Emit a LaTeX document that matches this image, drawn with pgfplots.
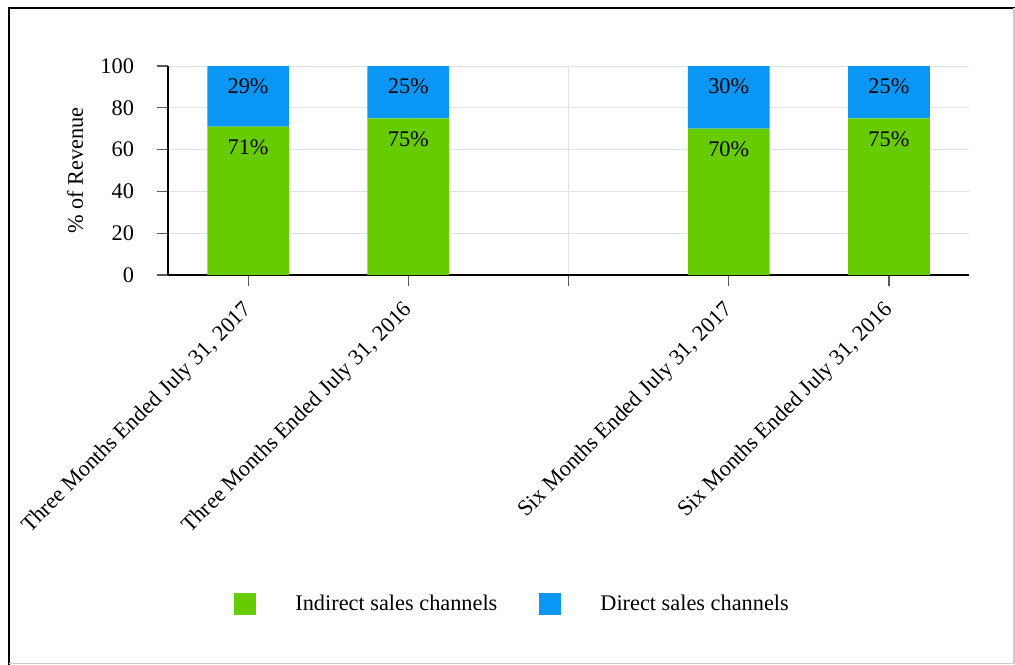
\documentclass[border=0pt]{standalone}
\usepackage{pgfplots}
\pgfplotsset{compat=1.18}
\usepackage{pgfplotstable}
\usepackage{fontspec}
\setmainfont{Liberation Serif}
\definecolor{cgreen}{HTML}{66CC00}
\definecolor{cblue}{HTML}{0A96F5}
\definecolor{gridc}{HTML}{E2E2E2}
\pgfplotstableread{
x y
0 71
1 75
3 70
4 75
}\indirect
\pgfplotstableread{
x y
0 29
1 25
3 30
4 25
}\direct
\begin{document}
\begin{tikzpicture}
\useasboundingbox (0bp,0bp) rectangle (507.5bp,-332.5bp);
\draw[black, line width=1bp] (4.5bp,-332.5bp) -- (4.5bp,-4bp) -- (507.5bp,-4bp);
\draw[gray!40, line width=0.75bp] (4.5bp,-331.8bp) -- (507bp,-331.8bp) -- (507bp,-4bp);
\begin{axis}[
  at={(84bp,-137.5bp)}, anchor=south west,
  scale only axis, width=400.5bp, height=104.5bp,
  font=\fontsize{11.2}{13}\selectfont,
  /pgf/number format/assume math mode=true,
  ybar stacked, bar width=0.51,
  xmin=-0.5, xmax=4.5, ymin=0, ymax=100,
  xtick={0,1,2,3,4},
  xticklabels={{Three Months Ended July 31, 2017},{Three Months Ended July 31, 2016},{},{Six Months Ended July 31, 2017},{Six Months Ended July 31, 2016}},
  ytick={0,20,40,60,80,100},
  axis x line*=bottom, axis y line*=left,
  axis line style={black, line width=1bp, -},
  tick align=outside, major tick length=5.5bp,
  tick style={gray!70!black, line width=0.6bp},
  xmajorgrids, ymajorgrids,
  grid style={gridc, line width=0.5bp},
  xticklabel style={rotate=45, anchor=north east, inner sep=1bp, xshift=-6bp, yshift=-1.5bp},
  yticklabel style={anchor=east, xshift=-8bp},
  ylabel={\% of Revenue},
  every axis y label/.style={at={(axis description cs:-0.116,0.5)}, rotate=90, anchor=center},
  visualization depends on={\thisrow{y} \as \segval},
  nodes near coords={\pgfmathprintnumber{\pgfplotspointmeta}\%},
  every node near coord/.append style={anchor=north, yshift=\segval*0.5225bp-3bp, black, font=\fontsize{11.2}{13}\selectfont},
  point meta=explicit,
  legend columns=2,
  legend image code/.code={\fill[#1] (0bp,-5.5bp) rectangle (11bp,5.5bp);},
  legend style={at={(0.0824,-1.574)}, anchor=west, draw=none, fill=none, inner sep=0pt,
    font=\fontsize{11.2}{13}\selectfont,
    /tikz/every odd column/.append style={column sep=19.5bp},
    /tikz/every even column/.append style={column sep=21bp},
    nodes={inner sep=0pt}},
]
\addplot[fill=cgreen, draw=none] table[x=x, y=y, meta=y] {\indirect};
\addlegendentry{Indirect sales channels}
\addplot[fill=cblue, draw=none] table[x=x, y=y, meta=y] {\direct};
\addlegendentry{Direct sales channels}
\end{axis}
\end{tikzpicture}
\end{document}
